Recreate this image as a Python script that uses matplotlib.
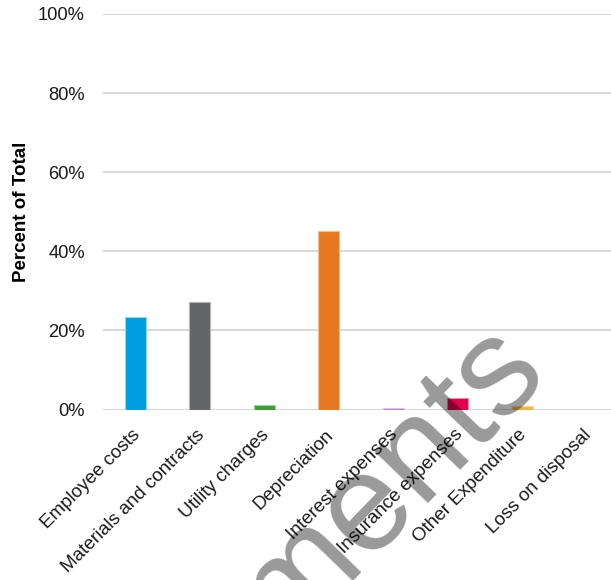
import matplotlib
matplotlib.use("Agg")
import matplotlib.pyplot as plt
from matplotlib.ticker import FuncFormatter
from matplotlib.transforms import ScaledTranslation

plt.rcParams['font.family'] = ['Liberation Sans', 'DejaVu Sans']

categorias = ["Employee costs", "Materials and contracts", "Utility charges", "Depreciation",
              "Interest expenses", "Insurance expenses", "Other Expenditure", "Loss on disposal"]
valores = [23.4, 27.3, 1.2, 45.1, 0.3, 3.0, 0.8, 0.0]
colores = ["#009ee0", "#636569", "#3e9c35", "#e87722", "#b57fd6", "#e0004d", "#f2b33d", "#888888"]
bordes = ["#8fd3f2", "#b5b6b8", "#9fd09a", "#f5bb90", "#dcc0ee", "#f08aa8", "#f8d99e", "#cccccc"]
y_ticks = [0, 20, 40, 60, 80, 100]

fig = plt.figure(figsize=(6.11, 5.8), dpi=100)
ax = fig.add_axes([103/611, (580-409.5)/580, 508/611, (409.5-14)/580])

x = list(range(len(categorias)))
ax.bar(x, valores, width=0.333, color=colores, edgecolor=bordes, linewidth=0.8, zorder=3)

ax.set_xlim(-0.5, 7.376)
ax.set_ylim(0, 100)
ax.set_yticks(y_ticks)
ax.yaxis.set_major_formatter(FuncFormatter(lambda v, p: f"{int(v)}%"))
ax.grid(axis='y', color='#d9d9d9', linewidth=1.5, zorder=0)
ax.set_axisbelow(True)
for s in ax.spines.values():
    s.set_visible(False)
ax.tick_params(axis='y', length=0, pad=13, labelsize=13.2, labelcolor='#1a1a1a')
ax.tick_params(axis='x', length=0, pad=12)
ax.set_xticks(x)
ax.set_xticklabels(categorias, rotation=45, ha='right', va='top', rotation_mode='anchor',
                   fontsize=13.6, color='#1a1a1a')
desplaz = ScaledTranslation(-4/100, 0, fig.dpi_scale_trans)
for lbl in ax.get_xticklabels():
    lbl.set_transform(lbl.get_transform() + desplaz)
ax.set_ylabel("Percent of Total", fontsize=13.5, fontweight='bold', labelpad=6)

# marca de agua
fig.text(290/611, 1 - 588/580, "Comments", rotation=46, ha='center', va='center',
         fontsize=100, color='black', alpha=0.4, zorder=10)

fig.savefig("out.png", dpi=100)
